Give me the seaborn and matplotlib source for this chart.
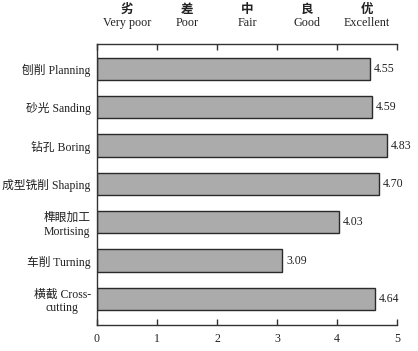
import matplotlib
matplotlib.use("Agg")
import matplotlib.pyplot as plt
import seaborn as sns

categories = [
    "刨削 Planning",
    "砂光 Sanding",
    "钻孔 Boring",
    "成型铣削 Shaping",
    "榫眼加工\nMortising",
    "车削 Turning",
    "横截 Cross-\ncutting",
]
scores = [4.55, 4.59, 4.83, 4.70, 4.03, 3.09, 4.64]
rating_cn = ["劣", "差", "中", "良", "优"]
rating_en = ["Very poor", "Poor", "Fair", "Good", "Excellent"]
rating_pos = [0.5, 1.5, 2.5, 3.5, 4.5]
x_ticks = [0, 1, 2, 3, 4, 5]

sns.set_style("white")
fonts = ["Liberation Serif", "Noto Sans CJK SC", "DejaVu Sans"]
plt.rcParams["font.family"] = fonts

fig = plt.figure(figsize=(4.18, 3.51), dpi=100)
ax = fig.add_axes([0.232, 0.074, 0.718, 0.801])

sns.barplot(x=scores, y=categories, orient="h", color="#ababab",
            edgecolor="#2a2a2a", linewidth=1.0, width=0.58, saturation=1, ax=ax)

for i, v in enumerate(scores):
    ax.text(v + 0.06, i, f"{v:.2f}", va="center", ha="left", fontsize=8.5, color="#222222")

ax.set_xlim(0, 5)
ax.set_ylim(6.68, -0.65)
ax.set_xticks(x_ticks)
ax.tick_params(axis="x", direction="in", length=4, width=1, color="#333333",
               top=True, bottom=True, labeltop=False, labelsize=8.5, pad=6,
               labelcolor="#222222")
ax.tick_params(axis="y", left=False, labelsize=8.5, pad=1, labelcolor="#222222")
for lbl in ax.get_yticklabels():
    lbl.set_multialignment("center")

for side in ["left", "top", "bottom"]:
    ax.spines[side].set_color("#333333")
    ax.spines[side].set_linewidth(1)
ax.spines["right"].set_visible(False)

trans = ax.get_xaxis_transform()
for x, cn, en in zip(rating_pos, rating_cn, rating_en):
    ax.text(x, 1.12, cn, transform=trans, ha="center", va="center", fontsize=9,
            fontweight="bold", color="#222222")
    ax.text(x, 1.075, en, transform=trans, ha="center", va="center", fontsize=8.7,
            color="#222222")

ax.set_xlabel("")
ax.set_ylabel("")
fig.savefig("out.png", dpi=100)
